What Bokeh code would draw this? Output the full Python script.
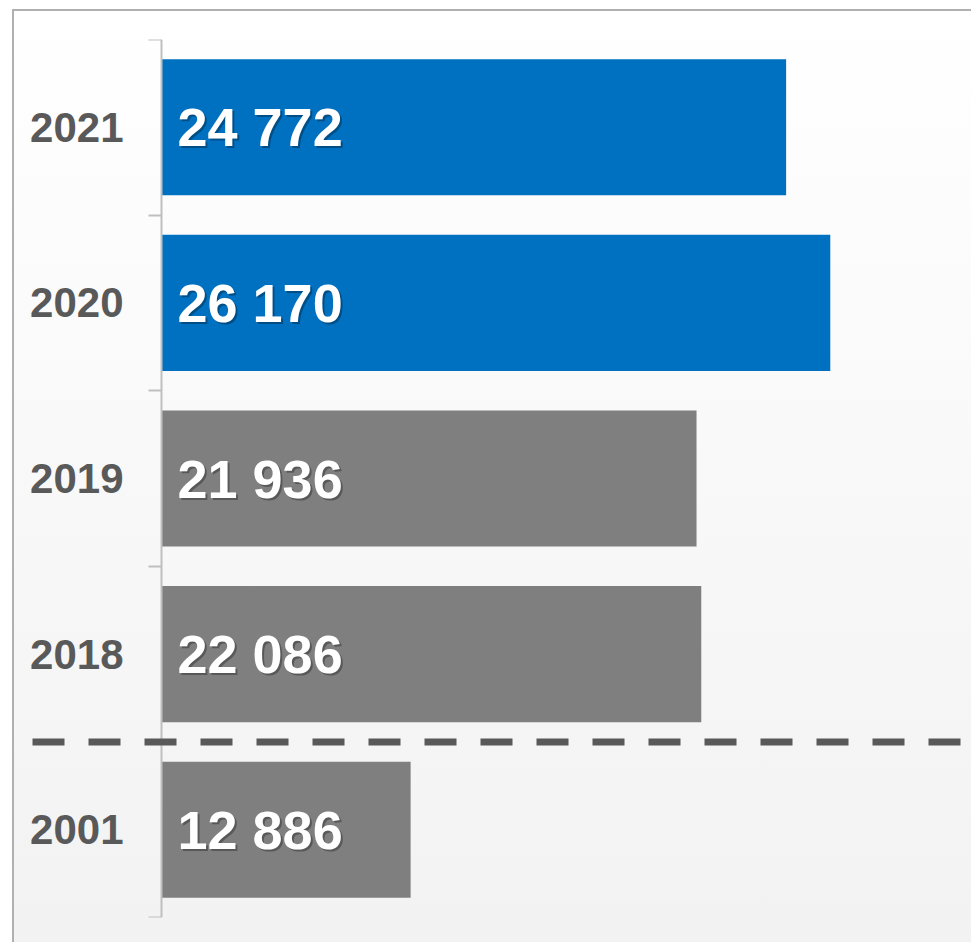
from bokeh.plotting import figure
from bokeh.models import ColumnDataSource, Range1d, FixedTicker, Arrow
from bokeh.core.properties import value
from bokeh.embed import file_html
from bokeh.resources import INLINE

# ---- data ----
years = ["2021", "2020", "2019", "2018", "2001"]
counts = [24772, 26170, 21936, 22086, 12886]
highlighted = ["2021", "2020"]
axis_start = 5000
axis_end = 30640

# ---- layout ----
W, H = 971, 942
L, T, B = 161, 39, 25          # pixel position of the value axis, frame top/bottom margins

n = len(years)
ypos = [n - 1 - i for i in range(n)]
labels = [f"{v:,}".replace(",", " ") for v in counts]
colors = ["#0070C0" if yr in highlighted else "#7F7F7F" for yr in years]
src = ColumnDataSource(dict(y=ypos, left=[axis_start] * n, right=counts,
                            label=labels, color=colors))

# frame spans full width; the value axis sits at axis_start (pixel L)
units_per_px = (axis_end - axis_start) / (W - L)
x_lo = axis_start - L * units_per_px


def px_to_x(px):
    return x_lo + px * units_per_px


p = figure(width=W, height=H, output_backend="svg", toolbar_location=None,
           x_range=Range1d(x_lo, axis_end), y_range=Range1d(-0.5, n - 0.5),
           x_axis_location=None, min_border_left=0, min_border_top=T,
           min_border_bottom=B, min_border_right=0)
p.border_fill_color = None
p.background_fill_color = None
p.outline_line_color = None
p.grid.grid_line_color = None
p.styles = {
    "background": (
        "linear-gradient(#b0b0b0,#b0b0b0) 12px 9px / 2px 100% no-repeat, "
        "linear-gradient(#b0b0b0,#b0b0b0) 12px 9px / 100% 2px no-repeat, "
        "linear-gradient(to bottom, #ffffff, #f2f2f2) 12px 9px / 100% 100% no-repeat"
    )
}

p.hbar(y="y", left="left", right="right", height=0.775, fill_color="color",
       line_color=None, source=src)

font = value("Liberation Sans")
p.text(x="left", y="y", text="label", x_offset=18, y_offset=2, text_color="#000000",
       text_alpha=0.3, text_font=font, text_font_style="bold", text_font_size="54px",
       text_align="left", text_baseline="middle", source=src)
p.text(x="left", y="y", text="label", x_offset=16, y_offset=0, text_color="#FFFFFF",
       text_font=font, text_font_style="bold", text_font_size="54px",
       text_align="left", text_baseline="middle", source=src)

ax = p.yaxis[0]
ax.fixed_location = axis_start
ax.ticker = FixedTicker(ticks=ypos, minor_ticks=[k - 0.5 for k in range(n + 1)])
ax.major_label_overrides = {yv: yr for yv, yr in zip(ypos, years)}
ax.major_tick_line_color = None
ax.major_tick_out = 0
ax.major_tick_in = 0
ax.minor_tick_line_color = "#BFBFBF"
ax.minor_tick_line_width = 2
ax.minor_tick_out = 13
ax.minor_tick_in = 0
ax.axis_line_color = "#BFBFBF"
ax.axis_line_width = 2
ax.major_label_text_font = "Liberation Sans"
ax.major_label_text_font_style = "bold"
ax.major_label_text_font_size = "42px"
ax.major_label_text_color = "#595959"
ax.major_label_standoff = 25

# separator between recent years and 2001
sep = Arrow(end=None, x_start=px_to_x(32), y_start=0.5, x_end=px_to_x(961), y_end=0.5,
            line_color="#595959", line_width=7, line_dash="32 24")
p.add_layout(sep)

open("out.html", "w").write(file_html(p, INLINE))
